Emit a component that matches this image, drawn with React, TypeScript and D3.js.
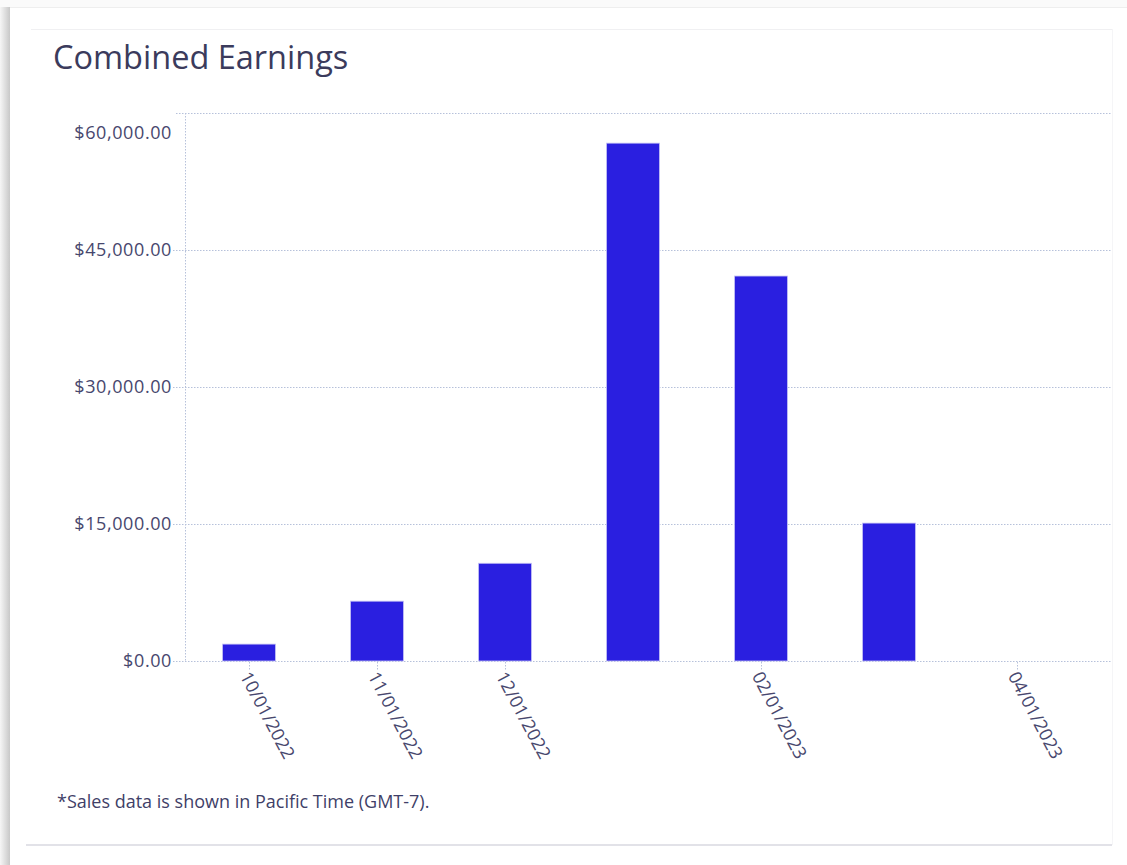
import { useRef, useEffect } from "react";
import * as d3 from "d3";

const months = [
  "10/01/2022",
  "11/01/2022",
  "12/01/2022",
  "01/01/2023",
  "02/01/2023",
  "03/01/2023",
  "04/01/2023",
];
const earnings = [1850, 6550, 10700, 56700, 42150, 15100, 0];
const shownLabels = ["10/01/2022", "11/01/2022", "12/01/2022", "02/01/2023", "04/01/2023"];
const yTicks = [0, 15000, 30000, 45000, 60000];

export default function App() {
  const chartRef = useRef<HTMLDivElement>(null);

  useEffect(() => {
    if (!chartRef.current) return;
    d3.select(chartRef.current).selectAll("*").remove();

    const width = 1127;
    const height = 865;
    const font = "'Open Sans', sans-serif";
    const textColor = "#47476e";
    const gridColor = "#b6c1da";

    const svg = d3
      .select(chartRef.current)
      .append("svg")
      .attr("width", width)
      .attr("height", height)
      .style("position", "absolute")
      .style("left", "0px")
      .style("top", "0px")
      .style("font-family", font);

    // Card background + left shadow
    const defs = svg.append("defs");
    const grad = defs
      .append("linearGradient")
      .attr("id", "shadow")
      .attr("x1", "0")
      .attr("x2", "1")
      .attr("y1", "0")
      .attr("y2", "0");
    grad.append("stop").attr("offset", "0%").attr("stop-color", "#f6f6f6");
    grad.append("stop").attr("offset", "100%").attr("stop-color", "#c8c8c8");

    svg.append("rect").attr("width", width).attr("height", height).attr("fill", "#fff");
    svg.append("rect").attr("x", 0).attr("y", 0).attr("width", width).attr("height", 7).attr("fill", "#fafafa");
    svg.append("rect").attr("x", 0).attr("y", 7).attr("width", 10).attr("height", height - 7).attr("fill", "url(#shadow)");
    svg.append("line").attr("x1", 10).attr("x2", width).attr("y1", 7.5).attr("y2", 7.5).attr("stroke", "#eeeeee");

    // Inner panel borders
    svg.append("line").attr("x1", 31).attr("x2", 1112).attr("y1", 29.5).attr("y2", 29.5).attr("stroke", "#f0f0f2");
    svg.append("line").attr("x1", 1112.5).attr("x2", 1112.5).attr("y1", 29).attr("y2", 845).attr("stroke", "#f5f5f7");
    svg.append("line").attr("x1", 26).attr("x2", 1112).attr("y1", 845).attr("y2", 845).attr("stroke", "#e2e2e8").attr("stroke-width", 2);

    // Title
    svg
      .append("text")
      .attr("x", 53)
      .attr("y", 69)
      .attr("font-size", "32.5px")
      .attr("fill", "#3b3b5c")
      .text("Combined Earnings");

    const x = d3.scaleBand().domain(months).range([185, 1081]).paddingInner(0.586).paddingOuter(0.293);
    const y = d3.scaleLinear().domain([0, 60000]).range([661, 113]);
    const plotRight = 1112;

    // Gridlines
    svg
      .append("g")
      .selectAll("line")
      .data(yTicks)
      .enter()
      .append("line")
      .attr("x1", (d) => (d === 60000 ? 176 : 173))
      .attr("x2", plotRight)
      .attr("y1", (d) => y(d) + 0.5)
      .attr("y2", (d) => y(d) + 0.5)
      .attr("stroke", gridColor)
      .attr("stroke-dasharray", "1.5,1.5");

    // Y axis line
    svg
      .append("line")
      .attr("x1", 185.5)
      .attr("x2", 185.5)
      .attr("y1", y(60000))
      .attr("y2", y(0))
      .attr("stroke", gridColor)
      .attr("stroke-dasharray", "1.5,1.5");

    // Y labels
    svg
      .append("g")
      .selectAll("text")
      .data(yTicks)
      .enter()
      .append("text")
      .attr("x", 172)
      .attr("y", (d) => (d === 60000 ? y(d) + 20 : y(d)))
      .attr("dy", "0.35em")
      .attr("text-anchor", "end")
      .attr("font-size", "18px")
      .attr("letter-spacing", "0.6px")
      .attr("fill", textColor)
      .text((d) => "$" + d3.format(",.2f")(d));

    // Bars
    svg
      .append("g")
      .selectAll("rect")
      .data(earnings)
      .enter()
      .append("rect")
      .attr("x", (_, i) => x(months[i])!)
      .attr("y", (d) => y(d))
      .attr("width", x.bandwidth())
      .attr("height", (d) => y(0) - y(d))
      .attr("fill", "#2a1fe0")
      .attr("stroke", (d) => (d > 0 ? "#c5c2f5" : "none"))
      .attr("stroke-width", 0.8);

    // X ticks + labels
    const xg = svg
      .append("g")
      .selectAll("g")
      .data(shownLabels)
      .enter()
      .append("g")
      .attr("transform", (d) => `translate(${x(d)! + x.bandwidth() / 2},${y(0)})`);

    xg.append("line")
      .attr("x1", 0.5)
      .attr("x2", 0.5)
      .attr("y1", 1)
      .attr("y2", 10)
      .attr("stroke", gridColor)
      .attr("stroke-dasharray", "1.5,1.5");

    xg.append("text")
      .attr("transform", "translate(-4,12) rotate(62)")
      .attr("font-size", "18px")
      .attr("fill", textColor)
      .attr("dy", "0.35em")
      .text((d) => d);

    // Footer note
    svg
      .append("text")
      .attr("x", 57)
      .attr("y", 808)
      .attr("font-size", "18px")
      .attr("fill", "#3f3f68")
      .text("*Sales data is shown in Pacific Time (GMT-7).");
  }, []);

  return <div ref={chartRef}></div>;
}
